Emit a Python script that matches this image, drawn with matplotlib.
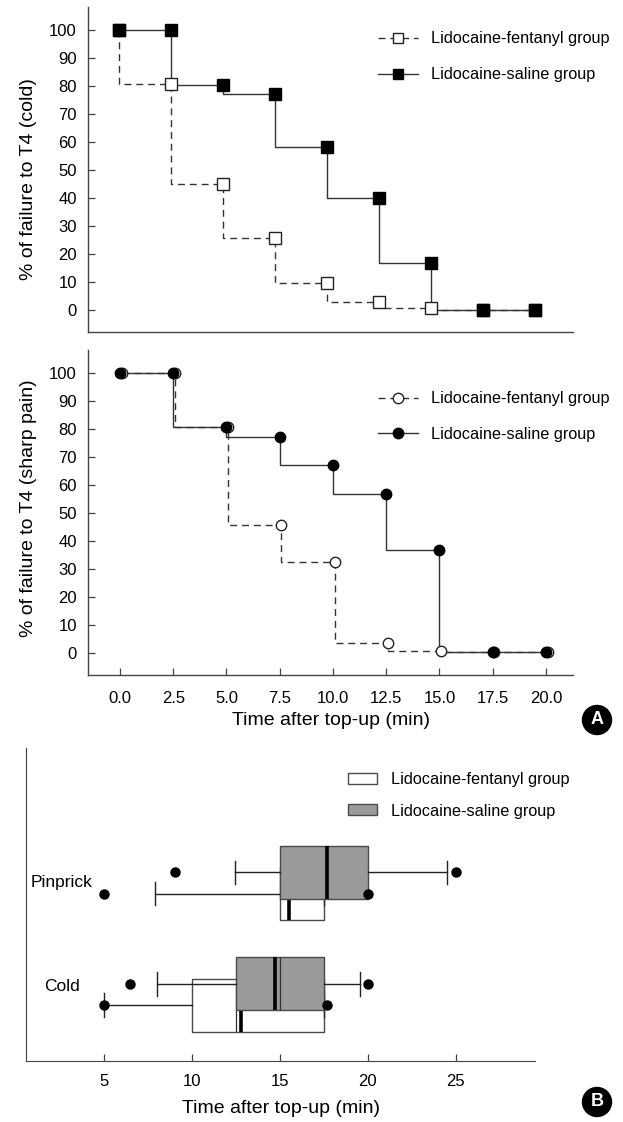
import matplotlib
matplotlib.use("Agg")
import matplotlib.pyplot as plt
from matplotlib.patches import Ellipse, Patch
from matplotlib.lines import Line2D

plt.rcParams["font.family"] = ["Liberation Sans", "DejaVu Sans"]

# ---- data -------------------------------------------------------------
times = [0, 2.5, 5, 7.5, 10, 12.5, 15, 17.5, 20]
cold_fentanyl = [100, 80.6, 45.0, 25.6, 9.7, 3.0, 0.6, 0, 0]
cold_saline = [100, 100, 80.4, 77.0, 58.2, 40.0, 16.8, 0, 0]
pain_fentanyl = [100, 100, 80.7, 45.8, 32.7, 3.8, 0.6, 0.5, 0.5]
pain_saline = [100, 100, 80.7, 77.3, 67.0, 56.9, 36.9, 0.5, 0.5]
time_ticks = [0, 2.5, 5, 7.5, 10, 12.5, 15, 17.5, 20]
pct_ticks = [0, 10, 20, 30, 40, 50, 60, 70, 80, 90, 100]

groups = ["Lidocaine-fentanyl group", "Lidocaine-saline group"]
categories = ["Pinprick", "Cold"]
# box statistics (min), per category: [fentanyl, saline]
box_q1 = {"Pinprick": [15.0, 15.0], "Cold": [10.0, 12.5]}
box_med = {"Pinprick": [15.5, 17.7], "Cold": [12.8, 14.7]}
box_q3 = {"Pinprick": [17.5, 20.0], "Cold": [17.5, 17.5]}
box_lo = {"Pinprick": [7.9, 12.45], "Cold": [5.0, 8.0]}
box_hi = {"Pinprick": [17.5, 24.5], "Cold": [17.5, 19.55]}
box_fliers = {"Pinprick": [[5.0, 20.0], [9.05, 25.0]],
              "Cold": [[5.0, 17.7], [6.5, 20.0]]}
box_inner = {"Pinprick": [None, None], "Cold": [12.5, 15.0]}
box_x_ticks = [5, 10, 15, 20, 25]

# ---- figure -----------------------------------------------------------
W, H = 623, 1122
fig = plt.figure(figsize=(W / 100, H / 100), dpi=100)


def px_axes(left, top, right, bottom):
    return fig.add_axes([left / W, 1 - bottom / H, (right - left) / W, (bottom - top) / H])


LINE = "#333333"
DASH = (5, 3.5)


def style_km(ax):
    for s in ("top", "right"):
        ax.spines[s].set_visible(False)
    for s in ("left", "bottom"):
        ax.spines[s].set_color("#444444")
        ax.spines[s].set_linewidth(1.0)
    ax.set_ylim(-7.8, 108.2)
    ax.set_yticks(pct_ticks)
    ax.tick_params(axis="y", direction="in", length=5, width=0.9, color="#444444",
                   labelsize=12, pad=8)


def km_legend(ax, marker, x_anchor, y_anchor, spacing):
    h = [Line2D([], [], color=LINE, lw=1, dashes=DASH, marker=marker, ms=7.5,
                mfc="white", mec="#222222", mew=1),
         Line2D([], [], color=LINE, lw=1, marker=marker, ms=7.5,
                mfc="black", mec="black")]
    return ax.legend(h, groups, loc="upper left", bbox_to_anchor=(x_anchor, y_anchor),
                     frameon=False, fontsize=11.7, handlelength=2.5, handletextpad=0.8,
                     labelspacing=spacing, borderpad=0, borderaxespad=0, numpoints=1)


# (A) top: cold
ax1 = px_axes(88, 7, 573, 332)
style_km(ax1)
ax1.set_xlim(-1.49, 21.83)
ax1.set_xticks([])
ax1.plot(times, cold_fentanyl, drawstyle="steps-pre", color=LINE, lw=1, dashes=DASH)
ax1.plot(times, cold_saline, drawstyle="steps-pre", color=LINE, lw=1)
ax1.plot(times, cold_fentanyl, ls="none", marker="s", ms=8, mfc="white", mec="#222222", mew=1, zorder=3)
ax1.plot(times, cold_saline, ls="none", marker="s", ms=8.5, mfc="black", mec="black", zorder=4)
ax1.set_ylabel("% of failure to T4 (cold)", fontsize=14)
ax1.yaxis.set_label_coords(-0.105, 0.47)
km_legend(ax1, "s", 0.597, 0.925, 1.3)

# (A) bottom: sharp pain
ax2 = px_axes(88, 350, 573, 675)
style_km(ax2)
ax2.set_xlim(-1.5, 21.27)
ax2.set_xticks(time_ticks)
ax2.set_xticklabels([f"{t:.1f}" for t in time_ticks])
ax2.tick_params(axis="x", direction="in", length=5, width=0.9, color="#444444",
                labelsize=12, pad=11.5)
fx = [t + 0.08 for t in times]
ax2.plot(fx, pain_fentanyl, drawstyle="steps-pre", color=LINE, lw=1, dashes=DASH)
ax2.plot(times, pain_saline, drawstyle="steps-pre", color=LINE, lw=1)
ax2.plot(fx, pain_fentanyl, ls="none", marker="o", ms=7.5, mfc="white", mec="#222222", mew=1, zorder=3)
ax2.plot(times, pain_saline, ls="none", marker="o", ms=7.5, mfc="black", mec="black", zorder=4)
ax2.set_ylabel("% of failure to T4 (sharp pain)", fontsize=14)
ax2.yaxis.set_label_coords(-0.105, 0.514)
ax2.set_xlabel("Time after top-up (min)", fontsize=14)
ax2.xaxis.set_label_coords(0.5, -0.115)
km_legend(ax2, "o", 0.597, 0.873, 1.25)

# (B) box plots
ax3 = px_axes(26, 748, 535, 1061)
for s in ("top", "right"):
    ax3.spines[s].set_visible(False)
for s in ("left", "bottom"):
    ax3.spines[s].set_color("#444444")
ax3.set_xlim(0.57, 29.5)
ax3.set_ylim(0.404, 3.21)
ax3.set_yticks([])
ax3.set_xticks(box_x_ticks)
ax3.tick_params(axis="x", direction="in", length=5, width=0.9, color="#444444",
                labelsize=12, pad=9)

fills = ["white", "#9a9a9a"]
offsets = [-0.095, 0.095]
cat_pos = {"Pinprick": 2.0, "Cold": 1.0}
for gi in range(2):
    for cat in categories:
        inner = box_inner[cat][gi]
        st = dict(q1=box_q1[cat][gi], med=box_med[cat][gi], q3=box_q3[cat][gi],
                  whislo=box_lo[cat][gi], whishi=box_hi[cat][gi],
                  fliers=box_fliers[cat][gi])
        if inner is not None:
            st["mean"] = inner
        ax3.bxp([st], positions=[cat_pos[cat] + offsets[gi]], widths=0.475,
                orientation="horizontal", patch_artist=True,
                showmeans=inner is not None, meanline=True, manage_ticks=False,
                capwidths=0.21,
                boxprops=dict(facecolor=fills[gi], edgecolor="#4a4a4a", lw=1.0),
                medianprops=dict(color="black", lw=2.6),
                meanprops=dict(color="#333333", lw=0.9, ls="-"),
                whiskerprops=dict(color="#222222", lw=1.0),
                capprops=dict(color="#222222", lw=1.0),
                flierprops=dict(marker="o", ms=6.5, mfc="black", mec="black"),
                zorder=2 + gi)
for fl in ax3.lines:
    if fl.get_marker() == "o":
        fl.set_zorder(6)

ax3.text(2.6, 2.0, "Pinprick", fontsize=12.5, ha="center", va="center")
ax3.text(2.6, 1.07, "Cold", fontsize=12.5, ha="center", va="center")
ax3.set_xlabel("Time after top-up (min)", fontsize=14)
ax3.xaxis.set_label_coords(0.5, -0.125)
hb = [Patch(facecolor=c, edgecolor="#4a4a4a", lw=1.0) for c in fills]
ax3.legend(hb, groups, loc="upper left", bbox_to_anchor=(0.633, 0.922), frameon=False,
           fontsize=11.7, handlelength=1.75, handleheight=0.66, handletextpad=0.9,
           labelspacing=1.0, borderpad=0, borderaxespad=0)

# panel badges
for letter, cy in (("A", 720), ("B", 1102)):
    fig.add_artist(Ellipse((597 / W, 1 - cy / H), 29 / W, 29 / H,
                           transform=fig.transFigure, color="black"))
    fig.text(597 / W, 1 - cy / H, letter, color="white", fontsize=13, fontweight="bold",
             ha="center", va="center")

fig.savefig("out.png", dpi=100)
